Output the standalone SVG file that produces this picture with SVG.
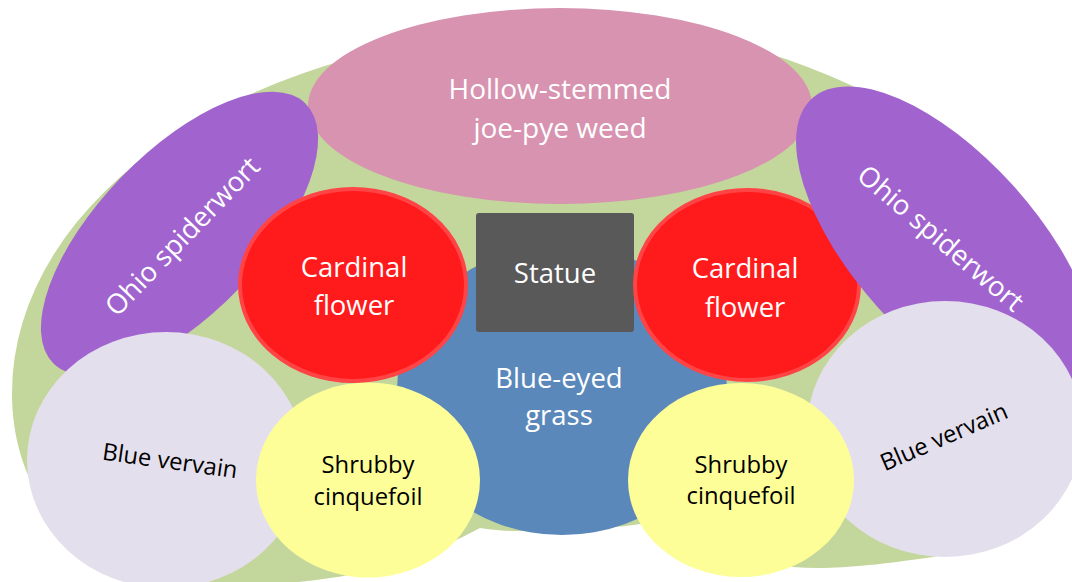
<svg xmlns="http://www.w3.org/2000/svg" width="1072" height="582" viewBox="0 0 1072 582">
<style>
text{font-family:"Open Sans","Liberation Sans",sans-serif;text-anchor:middle}
.w{fill:#ffffff;font-size:27.5px}
.k{fill:#000000;font-size:23.8px}
.purple{fill:#a164cf}
.lav{fill:#e4dfec}
.yel{fill:#fefe99}
.red{fill:#ff1a1c;stroke:#ff4446;stroke-width:4}
</style>
<rect width="1072" height="582" fill="#ffffff"/>
<g id="bed">
<path d="M12,393 A548,362 0 0 1 560,31 L560,23 A524,370 0 0 1 1084,393 C1084,470 1020,540 933,557 C870,566 830,570 793,567 C720,560 670,540 640,524 C600,530 520,535 480,528 C440,550 380,572 330,578 C250,590 150,590 100,560 C40,520 12,460 12,393 Z" fill="#c3d69b"/>
</g>
<g id="joe-pye">
<ellipse cx="560" cy="106" rx="252" ry="98" fill="#d793b0"/>
<text class="w" x="560" y="99" style="font-size:28px">Hollow-stemmed</text>
<text class="w" x="560" y="138" style="font-size:28px">joe-pye weed</text>
</g>
<g id="blue-eyed-grass">
<ellipse cx="562" cy="390" rx="165" ry="145" fill="#5b88bb"/>
<text class="w" x="559" y="388">Blue-eyed</text>
<text class="w" x="559" y="425">grass</text>
</g>
<g id="statue">
<rect x="476" y="213" width="158" height="119" rx="3" fill="#595959"/>
<text class="w" x="555" y="283">Statue</text>
</g>
<g id="spiderwort-left">
<ellipse cx="0" cy="0" rx="181" ry="81" class="purple" transform="translate(179.5,233.5) rotate(-46)"/>
<text class="w" transform="translate(182,236) rotate(-46)" y="10">Ohio spiderwort</text>
</g>
<g id="cardinal-left">
<ellipse cx="353" cy="285" rx="113" ry="96" class="red"/>
<text class="w" x="354" y="277">Cardinal</text>
<text class="w" x="354" y="315">flower</text>
</g>
<g id="cardinal-right">
<ellipse cx="747" cy="285" rx="112" ry="95" class="red"/>
<text class="w" x="745" y="278">Cardinal</text>
<text class="w" x="745" y="317">flower</text>
</g>
<g id="spiderwort-right">
<ellipse cx="0" cy="0" rx="200" ry="91" class="purple" transform="translate(946,247) rotate(48)"/>
<text class="w" transform="translate(941,238) rotate(40.5)" y="10">Ohio spiderwort</text>
</g>
<g id="vervain-left">
<ellipse cx="166" cy="460" rx="139" ry="128" class="lav"/>
<text class="k" transform="translate(170,461) rotate(8)" y="8">Blue vervain</text>
</g>
<g id="vervain-right">
<ellipse cx="945" cy="429" rx="138" ry="128" class="lav"/>
<text class="k" transform="translate(944,437) rotate(-23.5)" y="8">Blue vervain</text>
</g>
<g id="cinquefoil-left">
<ellipse cx="368" cy="480" rx="112" ry="97.5" class="yel"/>
<text class="k" x="368" y="473">Shrubby</text>
<text class="k" x="368" y="505">cinquefoil</text>
</g>
<g id="cinquefoil-right">
<ellipse cx="741" cy="480" rx="113" ry="97" class="yel"/>
<text class="k" x="741" y="473">Shrubby</text>
<text class="k" x="741" y="504">cinquefoil</text>
</g>
<g id="connectors"/>
</svg>
